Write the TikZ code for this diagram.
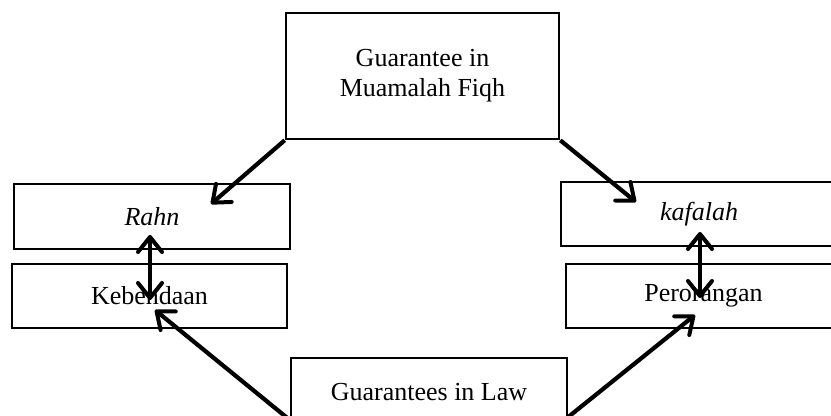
\documentclass[tikz,border=0pt]{standalone}
\usepackage{fontspec}
\setmainfont{Liberation Serif}
\usepackage{tikz}
\usetikzlibrary{positioning,arrows.meta,calc}

\tikzset{
  box/.style={draw, line width=1.3pt, rectangle, inner sep=0pt, align=center,
    font=\fontsize{13}{15}\selectfont},
  barb/.tip={Straight Barb[length=7.5pt,width=12pt,line width=2pt,round]},
  link/.style={line width=2.1pt, -barb},
  twoway/.style={line width=2.1pt, barb-barb}
}

\begin{document}
\begin{tikzpicture}[x=0.5pt,y=-0.5pt]
  \useasboundingbox (0,0) rectangle (831,416);
  \clip (0,0) rectangle (831,416);
  \node[box, minimum width=136.5pt, minimum height=63pt] (fiqh) at (422.5,76) {Guarantee in\\Muamalah Fiqh};
  \node[box, minimum width=138pt, minimum height=32.5pt] (rahn) at (152,216.5) {\itshape Rahn};
  \node[box, minimum width=137.5pt, minimum height=32pt] (benda) at (149.5,296) {Kebendaan};
  \node[box, minimum width=138pt, minimum height=32pt] (kafalah) at (699,214) {\itshape kafalah};
  \node[box, minimum width=137.5pt, minimum height=32pt] (orang) at (703.5,296) {Perorangan};
  \node[box, minimum width=138pt, minimum height=34pt] (law) at (429,392) {Guarantees in Law};
  % free ends of the connectors
  \coordinate (rahnin) at (211,204);
  \coordinate (kafin) at (636,202);
  \coordinate (rahnlo) at (150,235);
  \coordinate (bendahi) at (150,300);
  \coordinate (kaflo) at (700,232);
  \coordinate (oranghi) at (700,298);
  \coordinate (lawleft) at (291,421);
  \coordinate (lawright) at (567,418);
  \coordinate (bendain) at (155,310);
  \coordinate (orangin) at (695,315);
  \draw[link] (fiqh.south west) -- (rahnin);
  \draw[link] (fiqh.south east) -- (kafin);
  \draw[twoway] (rahnlo) -- (bendahi);
  \draw[twoway] (kaflo) -- (oranghi);
  \draw[link] (lawleft) -- (bendain);
  \draw[link] (lawright) -- (orangin);
\end{tikzpicture}
\end{document}
